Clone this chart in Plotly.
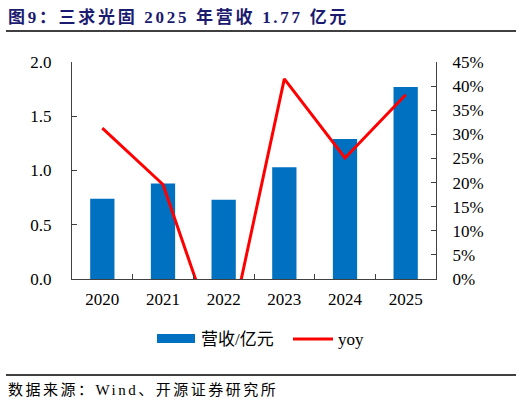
import plotly.graph_objects as go

years = ["2020", "2021", "2022", "2023", "2024", "2025"]
revenue = [0.74, 0.88, 0.73, 1.03, 1.29, 1.77]
yoy = [0.313, 0.196, -0.17, 0.415, 0.251, 0.382]

title_text = "图9：三求光固 2025 年营收 1.77 亿元"
source_text = "数据来源：Wind、开源证券研究所"
bar_name = "营收/亿元"
line_name = "yoy"

W, H = 522, 405
L, R, T, B = 72, 86, 62, 126
pw, ph = W - L - R, H - T - B

def px_x(x):
    return (x - L) / pw

def px_y(y):
    return (H - B - y) / ph

FONT = "Liberation Serif, Times New Roman, Noto Sans CJK SC, serif"
BAR_COLOR = "#0070C0"
LINE_COLOR = "#FF0000"
AX = "#404040"
TICK_SIZE = 17

fig = go.Figure()
fig.add_trace(go.Bar(x=years, y=revenue, name=bar_name, marker_color=BAR_COLOR,
                     marker_line_width=0, showlegend=False))
fig.add_trace(go.Scatter(x=years, y=yoy, name=line_name, mode="lines",
                         line=dict(color=LINE_COLOR, width=3), yaxis="y2",
                         showlegend=False))

fig.update_layout(
    width=W, height=H,
    margin=dict(l=L, r=R, t=T, b=B),
    paper_bgcolor="white", plot_bgcolor="white",
    font=dict(family=FONT, size=TICK_SIZE, color="#000000"),
    bargap=0.6,
    title=dict(text='<b><span style="letter-spacing:2.7px">' + title_text + "</span></b>",
               x=8 / W, xanchor="left",
               xref="container", yref="container", y=1 - 17 / H, yanchor="middle",
               font=dict(family=FONT, size=17, color="#1B1B6F")),
    xaxis=dict(type="category", showline=True, linecolor=AX, linewidth=1,
               ticks="inside", ticklen=5, tickcolor=AX, tickson="boundaries",
               showgrid=False, zeroline=False, ticklabelstandoff=5,
               tickfont=dict(size=TICK_SIZE)),
    yaxis=dict(range=[0, 2], dtick=0.5, tickformat=".1f", showline=True,
               linecolor=AX, linewidth=1, ticks="inside", ticklen=5, tickcolor=AX,
               showgrid=False, zeroline=False, ticklabelstandoff=16,
               tickfont=dict(size=TICK_SIZE)),
    yaxis2=dict(range=[0, 0.45], dtick=0.05, tickformat=".0%", overlaying="y",
                side="right", showline=True, linecolor=AX, linewidth=1,
                ticks="inside", ticklen=5, tickcolor=AX, showgrid=False,
                zeroline=False, ticklabelstandoff=12, tickfont=dict(size=TICK_SIZE)),
    showlegend=False,
)

shapes = [
    dict(type="line", xref="paper", yref="paper", x0=px_x(6), x1=px_x(516),
         y0=px_y(31), y1=px_y(31), line=dict(color="#000000", width=1.5)),
    dict(type="line", xref="paper", yref="paper", x0=px_x(6), x1=px_x(516),
         y0=px_y(375), y1=px_y(375), line=dict(color="#000000", width=1.5)),
    # legend swatches
    dict(type="rect", xref="paper", yref="paper", x0=px_x(157), x1=px_x(195),
         y0=px_y(343), y1=px_y(334), fillcolor=BAR_COLOR, line_width=0),
    dict(type="line", xref="paper", yref="paper", x0=px_x(293), x1=px_x(333),
         y0=px_y(339), y1=px_y(339), line=dict(color=LINE_COLOR, width=3)),
]
fig.update_layout(shapes=shapes)

annotations = [
    dict(text=bar_name, xref="paper", yref="paper", x=px_x(199), y=px_y(339),
         xanchor="left", yanchor="middle", showarrow=False,
         font=dict(family=FONT, size=TICK_SIZE)),
    dict(text=line_name, xref="paper", yref="paper", x=px_x(336), y=px_y(339),
         xanchor="left", yanchor="middle", showarrow=False,
         font=dict(family=FONT, size=TICK_SIZE)),
    dict(text='<span style="letter-spacing:2.5px">' + source_text + "</span>",
         xref="paper", yref="paper", x=px_x(6), y=px_y(390),
         xanchor="left", yanchor="middle", showarrow=False,
         font=dict(family=FONT, size=15)),
]
fig.update_layout(annotations=annotations)

fig.write_html("out.html")
